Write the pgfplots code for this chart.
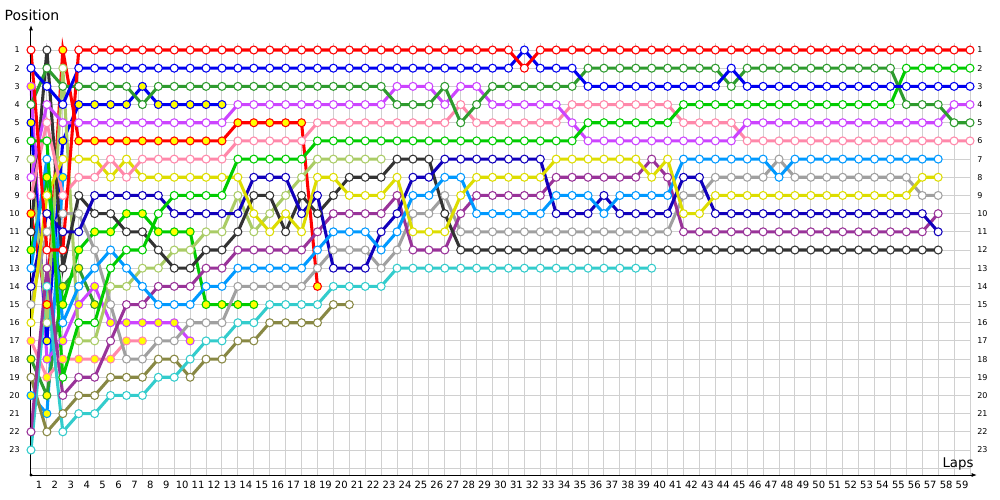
\documentclass[border=0pt]{standalone}
\usepackage{fontspec}
\setmainfont{DejaVu Sans}
\usepackage{pgfplots}
\usepackage{pgfplotstable}
\pgfplotsset{compat=1.18}
\usetikzlibrary{arrows.meta}

\definecolor{cRed}{HTML}{FF0000}
\definecolor{cBlue}{HTML}{0000F0}
\definecolor{cDgr}{HTML}{2E9B2E}
\definecolor{cGrn}{HTML}{00CC00}
\definecolor{cMag}{HTML}{CC44FF}
\definecolor{cPink}{HTML}{FF88AA}
\definecolor{cYel}{HTML}{DDDD00}
\definecolor{cLgr}{HTML}{AACC66}
\definecolor{cBlk}{HTML}{333333}
\definecolor{cLbu}{HTML}{0099FF}
\definecolor{cDbu}{HTML}{1100BB}
\definecolor{cGry}{HTML}{A0A0A0}
\definecolor{cPur}{HTML}{993399}
\definecolor{cOli}{HTML}{888844}
\definecolor{cCya}{HTML}{33CCCC}
\definecolor{cFillY}{HTML}{FFFF00}
\definecolor{gridc}{HTML}{D0D0D0}

% position of every car at the end of each lap (nan = out)
\pgfplotstableread{
lap redW redY blueW blueY dgrW dgrY grnW grnY magW magY pinkW pinkY yelW lgrW blkW lbuW lbuY dbuW gryW purW oliW cyaW
0 1 10 2 5 4 18 6 12 8 3 9 17 16 7 11 13 20 14 15 22 19 23
1 12 15 3 17 2 20 6 8 4 18 5 19 9 16 1 7 21 10 11 13 22 14
2 12 1 4 6 3 14 19 15 5 17 9 18 7 2 13 16 8 11 10 20 21 22
3 1 6 2 4 3 13 16 12 5 15 8 18 7 17 9 14 nan 11 10 19 20 21
4 1 6 2 4 3 15 16 11 5 14 8 18 7 17 10 13 nan 9 12 19 20 21
5 1 6 2 4 3 nan 13 11 5 16 7 18 8 14 10 12 nan 9 15 17 19 20
6 1 6 2 4 3 nan 12 10 5 16 8 17 7 14 11 13 nan 9 18 15 19 20
7 1 6 2 3 4 nan 12 10 5 16 7 17 8 13 11 14 nan 9 18 15 19 20
8 1 6 2 4 3 nan 10 11 5 16 7 nan 8 13 12 15 nan 9 17 14 18 19
9 1 6 2 4 3 nan 9 11 5 16 7 nan 8 12 13 15 nan 10 17 14 18 19
10 1 6 2 4 3 nan 9 11 5 17 7 nan 8 12 13 15 nan 10 16 14 19 18
11 1 6 2 4 3 nan 9 15 5 nan 7 nan 8 11 12 14 nan 10 16 13 18 17
12 1 6 2 4 3 nan 9 15 5 nan 7 nan 8 11 12 14 nan 10 16 13 18 17
13 1 5 2 nan 3 nan 7 15 4 nan 6 nan 8 9 11 13 nan 10 14 12 17 16
14 1 5 2 nan 3 nan 7 15 4 nan 6 nan 10 11 9 13 nan 8 14 12 17 16
15 1 5 2 nan 3 nan 7 nan 4 nan 6 nan 11 10 9 13 nan 8 14 12 16 15
16 1 5 2 nan 3 nan 7 nan 4 nan 6 nan 10 9 11 13 nan 8 14 12 16 15
17 1 5 2 nan 3 nan 7 nan 4 nan 6 nan 11 8 9 13 nan 10 14 12 16 15
18 1 14 2 nan 3 nan 6 nan 4 nan 5 nan 8 7 10 12 nan 9 13 11 16 15
19 1 nan 2 nan 3 nan 6 nan 4 nan 5 nan 8 7 9 11 nan 13 12 10 15 14
20 1 nan 2 nan 3 nan 6 nan 4 nan 5 nan 9 7 8 11 nan 13 12 10 15 14
21 1 nan 2 nan 3 nan 6 nan 4 nan 5 nan 9 7 8 11 nan 13 12 10 nan 14
22 1 nan 2 nan 3 nan 6 nan 4 nan 5 nan 9 7 8 12 nan 11 13 10 nan 14
23 1 nan 2 nan 4 nan 6 nan 3 nan 5 nan 8 nan 7 11 nan 10 12 9 nan 13
24 1 nan 2 nan 4 nan 6 nan 3 nan 5 nan 11 nan 7 9 nan 8 10 12 nan 13
25 1 nan 2 nan 4 nan 6 nan 3 nan 5 nan 11 nan 7 9 nan 8 10 12 nan 13
26 1 nan 2 nan 3 nan 6 nan 4 nan 5 nan 11 nan 10 8 nan 7 9 12 nan 13
27 1 nan 2 nan 5 nan 6 nan 3 nan 4 nan 9 nan 12 8 nan 7 11 10 nan 13
28 1 nan 2 nan 4 nan 6 nan 3 nan 5 nan 8 nan 12 10 nan 7 11 9 nan 13
29 1 nan 2 nan 3 nan 6 nan 4 nan 5 nan 8 nan 12 10 nan 7 11 9 nan 13
30 1 nan 2 nan 3 nan 6 nan 4 nan 5 nan 8 nan 12 10 nan 7 11 9 nan 13
31 2 nan 1 nan 3 nan 6 nan 4 nan 5 nan 8 nan 12 10 nan 7 11 9 nan 13
32 1 nan 2 nan 3 nan 6 nan 4 nan 5 nan 8 nan 12 10 nan 7 11 9 nan 13
33 1 nan 2 nan 3 nan 6 nan 4 nan 5 nan 7 nan 12 9 nan 10 11 8 nan 13
34 1 nan 2 nan 3 nan 6 nan 5 nan 4 nan 7 nan 12 9 nan 10 11 8 nan 13
35 1 nan 3 nan 2 nan 5 nan 6 nan 4 nan 7 nan 12 9 nan 10 11 8 nan 13
36 1 nan 3 nan 2 nan 5 nan 6 nan 4 nan 7 nan 12 10 nan 9 11 8 nan 13
37 1 nan 3 nan 2 nan 5 nan 6 nan 4 nan 7 nan 12 9 nan 10 11 8 nan 13
38 1 nan 3 nan 2 nan 5 nan 6 nan 4 nan 7 nan 12 9 nan 10 11 8 nan 13
39 1 nan 3 nan 2 nan 5 nan 6 nan 4 nan 8 nan 12 9 nan 10 11 7 nan 13
40 1 nan 3 nan 2 nan 5 nan 6 nan 4 nan 7 nan 12 9 nan 10 11 8 nan nan
41 1 nan 3 nan 2 nan 4 nan 6 nan 5 nan 10 nan 12 7 nan 8 9 11 nan nan
42 1 nan 3 nan 2 nan 4 nan 6 nan 5 nan 10 nan 12 7 nan 8 9 11 nan nan
43 1 nan 3 nan 2 nan 4 nan 6 nan 5 nan 9 nan 12 7 nan 10 8 11 nan nan
44 1 nan 2 nan 3 nan 4 nan 6 nan 5 nan 9 nan 12 7 nan 10 8 11 nan nan
45 1 nan 3 nan 2 nan 4 nan 5 nan 6 nan 9 nan 12 7 nan 10 8 11 nan nan
46 1 nan 3 nan 2 nan 4 nan 5 nan 6 nan 9 nan 12 7 nan 10 8 11 nan nan
47 1 nan 3 nan 2 nan 4 nan 5 nan 6 nan 9 nan 12 8 nan 10 7 11 nan nan
48 1 nan 3 nan 2 nan 4 nan 5 nan 6 nan 9 nan 12 7 nan 10 8 11 nan nan
49 1 nan 3 nan 2 nan 4 nan 5 nan 6 nan 9 nan 12 7 nan 10 8 11 nan nan
50 1 nan 3 nan 2 nan 4 nan 5 nan 6 nan 9 nan 12 7 nan 10 8 11 nan nan
51 1 nan 3 nan 2 nan 4 nan 5 nan 6 nan 9 nan 12 7 nan 10 8 11 nan nan
52 1 nan 3 nan 2 nan 4 nan 5 nan 6 nan 9 nan 12 7 nan 10 8 11 nan nan
53 1 nan 3 nan 2 nan 4 nan 5 nan 6 nan 9 nan 12 7 nan 10 8 11 nan nan
54 1 nan 3 nan 2 nan 4 nan 5 nan 6 nan 9 nan 12 7 nan 10 8 11 nan nan
55 1 nan 3 nan 4 nan 2 nan 5 nan 6 nan 9 nan 12 7 nan 10 8 11 nan nan
56 1 nan 3 nan 4 nan 2 nan 5 nan 6 nan 8 nan 12 7 nan 10 9 11 nan nan
57 1 nan 3 nan 4 nan 2 nan 5 nan 6 nan 8 nan 12 7 nan 11 9 10 nan nan
58 1 nan 3 nan 5 nan 2 nan 4 nan 6 nan nan nan nan nan nan nan nan nan nan nan
59 1 nan 3 nan 5 nan 2 nan 4 nan 6 nan nan nan nan nan nan nan nan nan nan nan
}\laps

\newcommand{\drvline}[2]{%
  \addplot[color=#2, line width=2.3pt, no markers, forget plot] table[x=lap, y=#1] {\laps};}
\newcommand{\drvmark}[3]{%
  \addplot[only marks, mark=*, mark size=3pt, forget plot,
    mark options={draw=#2, fill=#3, line width=0.8pt}] table[x=lap, y=#1] {\laps};}

\begin{document}
\begin{tikzpicture}
\useasboundingbox (0,0) rectangle (750pt,375pt);
\begin{axis}[
    at={(23.25pt,18.75pt)}, anchor=south west,
    scale only axis, width=709.5pt, height=337.5pt,
    xmin=0, xmax=59.44, ymin=-0.375, ymax=24.375,
    y dir=reverse,
    clip=false,
    axis line style={draw=none},
    major tick length=0pt,
    unbounded coords=jump,
    xtick={1,...,59}, ytick={1,...,23},
    /pgf/number format/assume math mode=true,
    xticklabel style={font=\fontsize{7.5}{8}\selectfont, xshift=-5.97pt, yshift=-1pt},
    yticklabel style={font=\fontsize{6}{7}\selectfont, xshift=-5pt},
]
% grid
\pgfplotsinvokeforeach{0,...,59}{\draw[gridc, line width=0.75pt] (axis cs:#1,0.6) -- (axis cs:#1,24.375);}
\pgfplotsinvokeforeach{1,...,24}{\draw[gridc, line width=0.75pt] (axis cs:0,#1) -- (axis cs:59,#1);}

\drvline{lbuY}{cLbu}
\drvline{dgrY}{cDgr}
\drvline{pinkY}{cPink}
\drvline{magY}{cMag}
\drvline{grnY}{cGrn}
\drvline{blueY}{cBlue}
\drvline{redY}{cRed}
\drvline{oliW}{cOli}
\drvline{cyaW}{cCya}
\drvline{lgrW}{cLgr}
\drvline{gryW}{cGry}
\drvline{purW}{cPur}
\drvline{blkW}{cBlk}
\drvline{dbuW}{cDbu}
\drvline{lbuW}{cLbu}
\drvline{yelW}{cYel}
\drvline{pinkW}{cPink}
\drvline{magW}{cMag}
\drvline{grnW}{cGrn}
\drvline{dgrW}{cDgr}
\drvline{blueW}{cBlue}
\drvline{redW}{cRed}

\drvmark{lbuY}{cLbu}{cFillY}
\drvmark{dgrY}{cDgr}{cFillY}
\drvmark{pinkY}{cPink}{cFillY}
\drvmark{magY}{cMag}{cFillY}
\drvmark{grnY}{cGrn}{cFillY}
\drvmark{blueY}{cBlue}{cFillY}
\drvmark{redY}{cRed}{cFillY}
\drvmark{oliW}{cOli}{white}
\drvmark{cyaW}{cCya}{white}
\drvmark{lgrW}{cLgr}{white}
\drvmark{gryW}{cGry}{white}
\drvmark{purW}{cPur}{white}
\drvmark{blkW}{cBlk}{white}
\drvmark{dbuW}{cDbu}{white}
\drvmark{lbuW}{cLbu}{white}
\drvmark{yelW}{cYel}{white}
\drvmark{pinkW}{cPink}{white}
\drvmark{magW}{cMag}{white}
\drvmark{grnW}{cGrn}{white}
\drvmark{dgrW}{cDgr}{white}
\drvmark{blueW}{cBlue}{white}
\drvmark{redW}{cRed}{white}

% axes with arrows
\draw[black, line width=0.75pt, -{Latex[length=4pt,width=3pt]}] (axis cs:0,24.375) -- (axis cs:59.44,24.375);
\draw[black, line width=0.75pt, -{Latex[length=4pt,width=3pt]}] (axis cs:0,24.375) -- (axis cs:0,-0.375);
\fill[black] (axis cs:0,24.375) circle (1.2pt);

% position numbers on the right
\pgfplotsinvokeforeach{1,...,23}{\node[anchor=west, inner sep=0pt, font=\fontsize{6}{7}\selectfont] at (axis cs:59.44,#1) {#1};}

\node[font=\fontsize{10.5}{12}\selectfont] at (axis cs:0.06,-0.93) {Position};
\node[font=\fontsize{10}{12}\selectfont] at (axis cs:58.25,23.77) {Laps};
\end{axis}
\end{tikzpicture}
\end{document}
